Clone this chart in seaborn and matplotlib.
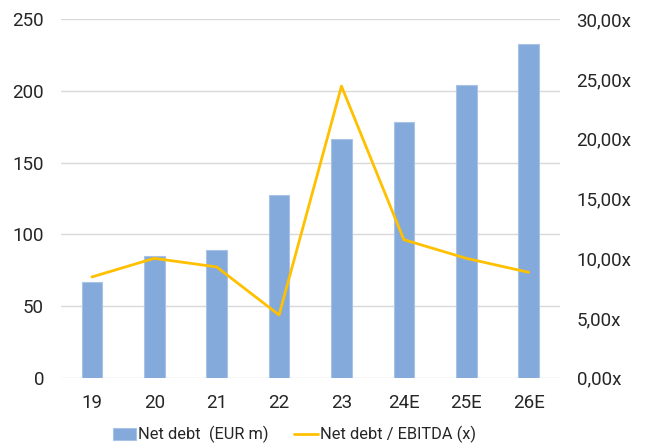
import numpy as np
import pandas as pd
import matplotlib
matplotlib.use("Agg")
import matplotlib.pyplot as plt
from matplotlib.ticker import FuncFormatter
import seaborn as sns

# data
years = ["19", "20", "21", "22", "23", "24E", "25E", "26E"]
net_debt = [67, 84.7, 88.9, 127.4, 166.7, 178.4, 204.4, 232.8]
leverage = [8.43, 9.99, 9.27, 5.25, 24.4, 11.55, 9.99, 8.82]

bar_color = "#84AADB"
line_color = "#FFC000"
grid_color = "#D9D9D9"
text_color = "#262626"

sns.set_style("white")
plt.rcParams["font.family"] = ["Roboto", "DejaVu Sans"]
plt.rcParams["font.size"] = 13.5

df = pd.DataFrame({"year": years, "net_debt": net_debt, "leverage": leverage})

fig = plt.figure(figsize=(6.51, 4.47), dpi=100)
ax = fig.add_axes([0.0932, 0.155, 0.7668, 0.802])
ax2 = ax.twinx()

sns.barplot(data=df, x="year", y="net_debt", color=bar_color, width=0.33,
            saturation=1, edgecolor="#A9C3E6", linewidth=0.8, ax=ax,
            label="Net debt  (EUR m)")
sns.lineplot(x=np.arange(len(years)), y=df["leverage"], color=line_color,
             linewidth=2.0, ax=ax2, label="Net debt / EBITDA (x)", legend=False)

ax.set_xlim(-0.5, len(years) - 0.5)
ax.set_ylim(0, 250)
ax.set_yticks(range(0, 251, 50))
ax2.set_ylim(0, 30)
ax2.set_yticks(range(0, 31, 5))
ax2.yaxis.set_major_formatter(FuncFormatter(lambda v, p: f"{v:.2f}".replace(".", ",") + "x"))

ax.grid(axis="y", color=grid_color, linewidth=1)
ax.set_axisbelow(True)
ax2.grid(False)
for a in (ax, ax2):
    for s in a.spines.values():
        s.set_visible(False)
    a.tick_params(length=0, colors=text_color, labelsize=13.5)
ax.tick_params(axis="y", pad=12)
ax.tick_params(axis="x", pad=12)
ax2.tick_params(axis="y", pad=12)
ax.set_xlabel("")
ax.set_ylabel("")
ax2.set_ylabel("")

h1, l1 = ax.get_legend_handles_labels()
h2, l2 = ax2.get_legend_handles_labels()
if ax.get_legend():
    ax.get_legend().remove()
fig.legend(h1 + h2, l1 + l2, loc="lower center", bbox_to_anchor=(0.452, -0.025),
           ncol=2, frameon=False, fontsize=11.8, handlelength=1.45,
           handletextpad=0.12, columnspacing=1.55, labelcolor=text_color)

fig.savefig("out.png", dpi=100)
